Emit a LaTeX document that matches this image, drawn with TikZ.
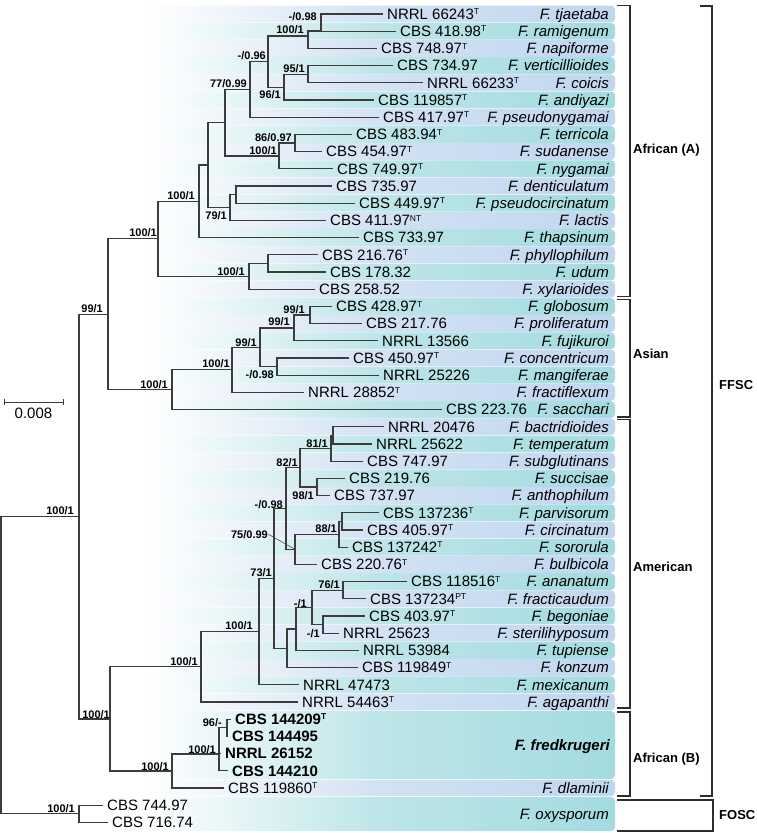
\documentclass[tikz,border=0pt]{standalone}
\usepackage{fontspec}
\setmainfont{Liberation Sans}
\newcommand\spx[1]{\raisebox{4.6pt}{\fontsize{8.5}{8.5}\selectfont #1}}
\definecolor{bandblue}{RGB}{193,214,239}
\definecolor{bandteal}{RGB}{163,219,223}
\definecolor{lin}{RGB}{60,60,60}
\definecolor{brk}{RGB}{45,45,45}
\begin{document}
\begin{tikzpicture}[x=1pt,y=-1pt,
  strain/.style={anchor=west,inner xsep=4pt,inner ysep=0pt,font=\fontsize{15}{15}\selectfont,text height=10.7pt,text depth=0pt},
  spname/.style={anchor=east,inner sep=0pt,font=\fontsize{15}{15}\selectfont\itshape,text height=10.7pt,text depth=0pt},
  bs/.style={anchor=east,inner sep=0pt,font=\fontsize{11}{11}\selectfont\bfseries,text height=8pt,text depth=0pt},
  branch/.style={line width=1.2pt,draw=lin},
  bracket/.style={line width=1.4pt,draw=brk},
  clade/.style={anchor=west,inner sep=0pt,font=\fontsize{13}{13}\selectfont\bfseries}]
\useasboundingbox (0,0) rectangle (756,833);
% ---------- background bands ----------
\foreach \i in {1,...,41}{
  \pgfmathsetmacro\yc{14+17.2*(\i-1)}
  \ifodd\i \def\bc{bandblue}\else\def\bc{bandteal}\fi
  \shade[left color=white,right color=\bc,middle color=\bc!72!white,rounded corners=4pt]
    (145,{\yc-8.4}) rectangle (615,{\yc+8.4});
}
\shade[left color=white,right color=bandteal,middle color=bandteal!72!white,rounded corners=4pt] (145,711) rectangle (615,779.2);
\shade[left color=white,right color=bandblue,middle color=bandblue!72!white,rounded corners=4pt] (145,779.8) rectangle (615,796.2);
\shade[left color=white,right color=bandteal,middle color=bandteal!72!white,rounded corners=4pt] (145,796.8) rectangle (615,831);
% ---------- tips ----------
\node[strain] (t1) at (383,14) {NRRL 66243\spx{T}};
\node[strain] (t2) at (396,31.2) {CBS 418.98\spx{T}};
\node[strain] (t3) at (377,48.4) {CBS 748.97\spx{T}};
\node[strain] (t4) at (393,65.6) {CBS 734.97};
\node[strain] (t5) at (423,82.8) {NRRL 66233\spx{T}};
\node[strain] (t6) at (374,100) {CBS 119857\spx{T}};
\node[strain] (t7) at (379,117.2) {CBS 417.97\spx{T}};
\node[strain] (t8) at (352,134.4) {CBS 483.94\spx{T}};
\node[strain] (t9) at (322,151.6) {CBS 454.97\spx{T}};
\node[strain] (t10) at (333,168.8) {CBS 749.97\spx{T}};
\node[strain] (t11) at (332,186) {CBS 735.97};
\node[strain] (t12) at (355,203.2) {CBS 449.97\spx{T}};
\node[strain] (t13) at (326,220.4) {CBS 411.97\spx{NT}};
\node[strain] (t14) at (359,237.6) {CBS 733.97};
\node[strain] (t15) at (318,254.8) {CBS 216.76\spx{T}};
\node[strain] (t16) at (326,272) {CBS 178.32};
\node[strain] (t17) at (315,289.2) {CBS 258.52};
\node[strain] (t18) at (332,306.4) {CBS 428.97\spx{T}};
\node[strain] (t19) at (362,323.6) {CBS 217.76};
\node[strain] (t20) at (378,340.8) {NRRL 13566};
\node[strain] (t21) at (349,358) {CBS 450.97\spx{T}};
\node[strain] (t22) at (379,375.2) {NRRL 25226};
\node[strain] (t23) at (304,392.4) {NRRL 28852\spx{T}};
\node[strain] (t24) at (442,409.6) {CBS 223.76};
\node[strain] (t25) at (384,426.8) {NRRL 20476};
\node[strain] (t26) at (372,444) {NRRL 25622};
\node[strain] (t27) at (363,461.2) {CBS 747.97};
\node[strain] (t28) at (345,478.4) {CBS 219.76};
\node[strain] (t29) at (330,495.6) {CBS 737.97};
\node[strain] (t30) at (379,512.8) {CBS 137236\spx{T}};
\node[strain] (t31) at (363,530) {CBS 405.97\spx{T}};
\node[strain] (t32) at (348,547.2) {CBS 137242\spx{T}};
\node[strain] (t33) at (317,564.4) {CBS 220.76\spx{T}};
\node[strain] (t34) at (407,581.6) {CBS 118516\spx{T}};
\node[strain] (t35) at (366,598.8) {CBS 137234\spx{PT}};
\node[strain] (t36) at (365,616) {CBS 403.97\spx{T}};
\node[strain] (t37) at (339,633.2) {NRRL 25623};
\node[strain] (t38) at (359,650.4) {NRRL 53984};
\node[strain] (t39) at (358,667.6) {CBS 119849\spx{T}};
\node[strain] (t40) at (299,684.8) {NRRL 47473};
\node[strain] (t41) at (298,702) {NRRL 54463\spx{T}};
\node[strain,font=\fontsize{15}{15}\selectfont\bfseries] (t42) at (231,719.2) {CBS 144209\spx{T}};
\node[strain,font=\fontsize{15}{15}\selectfont\bfseries] (t43) at (228,736.4) {CBS 144495};
\node[strain,font=\fontsize{15}{15}\selectfont\bfseries] (t44) at (221,753.6) {NRRL 26152};
\node[strain,font=\fontsize{15}{15}\selectfont\bfseries] (t45) at (228,770.8) {CBS 144210};
\node[strain] (t46) at (224,788) {CBS 119860\spx{T}};
\node[strain] (t47) at (103,805.2) {CBS 744.97};
\node[strain] (t48) at (108,822.4) {CBS 716.74};
% ---------- species ----------
\node[spname] (s1) at (609,14) {F. tjaetaba};
\node[spname] (s2) at (609,31.2) {F. ramigenum};
\node[spname] (s3) at (609,48.4) {F. napiforme};
\node[spname] (s4) at (609,65.6) {F. verticillioides};
\node[spname] (s5) at (609,82.8) {F. coicis};
\node[spname] (s6) at (609,100) {F. andiyazi};
\node[spname] (s7) at (609,117.2) {F. pseudonygamai};
\node[spname] (s8) at (609,134.4) {F. terricola};
\node[spname] (s9) at (609,151.6) {F. sudanense};
\node[spname] (s10) at (609,168.8) {F. nygamai};
\node[spname] (s11) at (609,186) {F. denticulatum};
\node[spname] (s12) at (609,203.2) {F. pseudocircinatum};
\node[spname] (s13) at (609,220.4) {F. lactis};
\node[spname] (s14) at (609,237.6) {F. thapsinum};
\node[spname] (s15) at (609,254.8) {F. phyllophilum};
\node[spname] (s16) at (609,272) {F. udum};
\node[spname] (s17) at (609,289.2) {F. xylarioides};
\node[spname] (s18) at (609,306.4) {F. globosum};
\node[spname] (s19) at (609,323.6) {F. proliferatum};
\node[spname] (s20) at (609,340.8) {F. fujikuroi};
\node[spname] (s21) at (609,358) {F. concentricum};
\node[spname] (s22) at (609,375.2) {F. mangiferae};
\node[spname] (s23) at (609,392.4) {F. fractiflexum};
\node[spname] (s24) at (609,409.6) {F. sacchari};
\node[spname] (s25) at (609,426.8) {F. bactridioides};
\node[spname] (s26) at (609,444) {F. temperatum};
\node[spname] (s27) at (609,461.2) {F. subglutinans};
\node[spname] (s28) at (609,478.4) {F. succisae};
\node[spname] (s29) at (609,495.6) {F. anthophilum};
\node[spname] (s30) at (609,512.8) {F. parvisorum};
\node[spname] (s31) at (609,530) {F. circinatum};
\node[spname] (s32) at (609,547.2) {F. sororula};
\node[spname] (s33) at (609,564.4) {F. bulbicola};
\node[spname] (s34) at (609,581.6) {F. ananatum};
\node[spname] (s35) at (609,598.8) {F. fracticaudum};
\node[spname] (s36) at (609,616) {F. begoniae};
\node[spname] (s37) at (609,633.2) {F. sterilihyposum};
\node[spname] (s38) at (609,650.4) {F. tupiense};
\node[spname] (s39) at (609,667.6) {F. konzum};
\node[spname] (s40) at (609,684.8) {F. mexicanum};
\node[spname] (s41) at (609,702) {F. agapanthi};
\node[spname,font=\fontsize{15}{15}\selectfont\bfseries\itshape] (s42) at (610,745) {F. fredkrugeri};
\node[spname] (s46) at (609,788) {F. dlaminii};
\node[spname] (s47) at (609,813.8) {F. oxysporum};
% ---------- internal nodes ----------
\coordinate (root) at (1,665.2);
\coordinate (nF) at (79,516.6);
\coordinate (nO) at (79,813.8);
\coordinate (n99) at (108,314.3);
\coordinate (nAA) at (158,238.8);
\coordinate (n199) at (199,201.3);
\coordinate (nA1) at (208,165);
\coordinate (n225) at (225,122.6);
\coordinate (n250) at (250,89.4);
\coordinate (n268) at (268,61.5);
\coordinate (n308a) at (308,36);
\coordinate (n321) at (321,31);
\coordinate (n284) at (284,87.1);
\coordinate (n308b) at (308,74.2);
\coordinate (n279) at (279,155.9);
\coordinate (n295) at (295,143);
\coordinate (n230) at (230,207.5);
\coordinate (n236) at (236,194.6);
\coordinate (n249) at (249,276.3);
\coordinate (n268b) at (268,263.4);
\coordinate (nAs) at (172,389.7);
\coordinate (n232) at (232,369.8);
\coordinate (n260) at (260,347.3);
\coordinate (n294) at (294,327.9);
\coordinate (n310) at (310,315);
\coordinate (n277) at (277,366.6);
\coordinate (n110) at (110,718.9);
\coordinate (nAm) at (201,666.8);
\coordinate (n259) at (259,631.6);
\coordinate (n274) at (274,578.4);
\coordinate (n286) at (286,508.5);
\coordinate (n300) at (300,467.7);
\coordinate (n331) at (331,448.3);
\coordinate (n333) at (333,435.4);
\coordinate (n317) at (317,487);
\coordinate (n295b) at (295,549.4);
\coordinate (n339) at (339,534.3);
\coordinate (n342) at (342,521.4);
\coordinate (n287) at (287,648.3);
\coordinate (n296) at (296,628.9);
\coordinate (n312) at (312,607.4);
\coordinate (n343) at (343,590.2);
\coordinate (n323) at (323,624.6);
\coordinate (nAB) at (172,771);
\coordinate (n219) at (219,754);
\coordinate (n227) at (227,727.8);
% ---------- branches ----------
\draw[branch]
 (root) |- (nF) (root) |- (nO)
 (nO) |- (t47.west) (nO) |- (t48.west)
 (nF) |- (n99) (nF) |- (n110)
 (n99) |- (nAA) (n99) |- (nAs)
 (nAA) |- (n199) (nAA) |- (n249)
 (n199) |- (nA1) (n199) |- (t14.west)
 (nA1) |- (n225) (nA1) |- (n230)
 (n225) |- (n250) (n225) |- (n279)
 (n250) |- (n268) (n250) |- (t7.west)
 (n268) |- (n308a) (n268) |- (n284)
 (n308a) |- (n321) (n308a) |- (t3.west)
 (n321) |- (t1.west) (n321) |- (t2.west)
 (n284) |- (n308b) (n284) |- (t6.west)
 (n308b) |- (t4.west) (n308b) |- (t5.west)
 (n279) |- (n295) (n279) |- (t10.west)
 (n295) |- (t8.west) (n295) |- (t9.west)
 (n230) |- (n236) (n230) |- (t13.west)
 (n236) |- (t11.west) (n236) |- (t12.west)
 (n249) |- (n268b) (n249) |- (t17.west)
 (n268b) |- (t15.west) (n268b) |- (t16.west)
 (nAs) |- (n232) (nAs) |- (t24.west)
 (n232) |- (n260) (n232) |- (t23.west)
 (n260) |- (n294) (n260) |- (n277)
 (n294) |- (n310) (n294) |- (t20.west)
 (n310) |- (t18.west) (n310) |- (t19.west)
 (n277) |- (t21.west) (n277) |- (t22.west)
 (n110) |- (nAm) (n110) |- (nAB)
 (nAm) |- (n259) (nAm) |- (t41.west)
 (n259) |- (n274) (n259) |- (t40.west)
 (n274) |- (n286) (n274) |- (n287)
 (n286) |- (n300) (n286) |- (n295b)
 (n300) |- (n331) (n300) |- (n317)
 (n331) |- (n333) (n331) |- (t27.west)
 (n333) |- (t25.west) (n333) |- (t26.west)
 (n317) |- (t28.west) (n317) |- (t29.west)
 (n295b) |- (n339) (n295b) |- (t33.west)
 (n339) |- (n342) (n339) |- (t32.west)
 (n342) |- (t30.west) (n342) |- (t31.west)
 (n287) |- (n296) (n287) |- (t39.west)
 (n296) |- (n312) (n296) |- (t38.west)
 (n312) |- (n343) (n312) |- (n323)
 (n343) |- (t34.west) (n343) |- (t35.west)
 (n323) |- (t36.west) (n323) |- (t37.west)
 (nAB) |- (n219) (nAB) |- (t46.west)
 (n219) |- (n227) (n219) |- (t44.west) (n219) |- (t45.west)
 (n227) |- (t42.west) (n227) |- (t43.west);
% ---------- support values ----------
\node[bs] (l1) at (317,16) {-/0.98};
\node[bs] (l2) at (304,29) {100/1};
\node[bs] (l3) at (266,55) {-/0.96};
\node[bs] (l4) at (305,68) {95/1};
\node[bs] (l5) at (247,83) {77/0.99};
\node[bs] (l6) at (281,94) {96/1};
\node[bs] (l7) at (292,137) {86/0.97};
\node[bs] (l8) at (277,150) {100/1};
\node[bs] (l9) at (195,195) {100/1};
\node[bs] (l10) at (227,215) {79/1};
\node[bs] (l11) at (157,232) {100/1};
\node[bs] (l12) at (245,271) {100/1};
\node[bs] (l13) at (103,308) {99/1};
\node[bs] (l14) at (305,309) {99/1};
\node[bs] (l15) at (290,321) {99/1};
\node[bs] (l16) at (257,342) {99/1};
\node[bs] (l17) at (230,363) {100/1};
\node[bs] (l18) at (274,374) {-/0.98};
\node[bs] (l19) at (168,384) {100/1};
\node[bs] (l20) at (328,443) {81/1};
\node[bs] (l21) at (298,462) {82/1};
\node[bs] (l22) at (314,495) {98/1};
\node[bs] (l23) at (283,504) {-/0.98};
\node[bs] (l24) at (74,510) {100/1};
\node[bs] (l25) at (337,528) {88/1};
\node[bs] (l26) at (268,534) {75/0.99};
\node[bs] (l27) at (272,572) {73/1};
\node[bs] (l28) at (340,584) {76/1};
\node[bs] (l29) at (307,603) {-/1};
\node[bs] (l30) at (253,625) {100/1};
\node[bs] (l31) at (320,633) {-/1};
\node[bs] (l32) at (198,661) {100/1};
\node[bs] (l33) at (110,714) {100/1};
\node[bs] (l34) at (222,722) {96/-};
\node[bs] (l35) at (216,749) {100/1};
\node[bs] (l36) at (169,766) {100/1};
\node[bs] (l37) at (75,808) {100/1};
\draw[lin,line width=0.5pt] (l26.east) -- (n295b);
% ---------- scale bar ----------
\coordinate (sbl) at (4,402);
\coordinate (sbr) at (63,402);
\draw[branch,line width=1pt] (sbl) -- (sbr) ([yshift=-3pt]sbl) -- ([yshift=3pt]sbl) ([yshift=-3pt]sbr) -- ([yshift=3pt]sbr);
\node[inner sep=0pt,font=\fontsize{15}{15}\selectfont] (sbt) at (33.5,413) {0.008};
% ---------- clade brackets ----------
\draw[bracket] (617,5.5) -- (630,5.5) -- (630,296.5) -- (617,296.5);
\draw[bracket] (617,299.5) -- (630,299.5) -- (630,417) -- (617,417);
\draw[bracket] (617,419.5) -- (630,419.5) -- (630,708) -- (617,708);
\draw[bracket] (617,712) -- (630,712) -- (630,796) -- (617,796);
\draw[bracket] (617,800) -- (713,800) -- (713,831) -- (617,831);
\draw[bracket] (700,6) -- (712,6) -- (712,796) -- (700,796);
\node[clade] (cAA) at (633,150) {African (A)};
\node[clade] (cAs) at (633,354) {Asian};
\node[clade] (cAm) at (633,567) {American};
\node[clade] (cAB) at (633,759) {African (B)};
\node[clade] (cFF) at (719,385) {FFSC};
\node[clade] (cFO) at (719,815) {FOSC};
\end{tikzpicture}
\end{document}
